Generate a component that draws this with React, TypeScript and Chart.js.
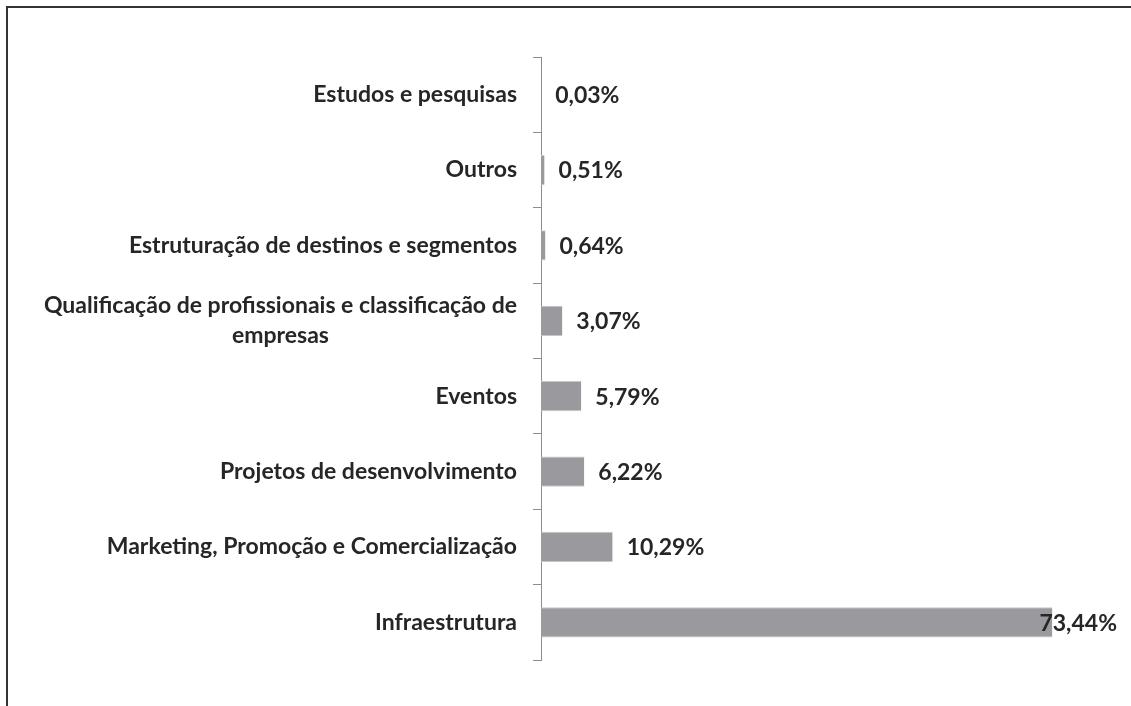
import React, { useEffect, useRef } from "react";
import { Chart, registerables } from "chart.js";

Chart.register(...registerables);

const categories: (string | string[])[] = [
  "Estudos e pesquisas",
  "Outros",
  "Estruturação de destinos e segmentos",
  ["Qualificação de profissionais e classificação de", "empresas"],
  "Eventos",
  "Projetos de desenvolvimento",
  "Marketing, Promoção e Comercialização",
  "Infraestrutura",
];
const values: number[] = [0.03, 0.51, 0.64, 3.07, 5.79, 6.22, 10.29, 73.44];
const valueLabels: string[] = ["0,03%", "0,51%", "0,64%", "3,07%", "5,79%", "6,22%", "10,29%", "73,44%"];

const FONT = "Lato, 'Open Sans', sans-serif";
const TEXT = "#262626";

const labelPlugin = {
  id: "customLabels",
  afterDraw(chart: any) {
    const ctx = chart.ctx;
    const y = chart.scales.y;
    const x = chart.scales.x;
    ctx.save();
    ctx.font = `bold 23px ${FONT}`;
    ctx.fillStyle = TEXT;
    ctx.textBaseline = "middle";
    const right = y.right - 24;
    categories.forEach((cat, i) => {
      const cy = y.getPixelForValue(i);
      const lines = Array.isArray(cat) ? cat : [cat];
      const widest = Math.max(...lines.map((l) => ctx.measureText(l).width));
      const lh = 30;
      const startY = cy - ((lines.length - 1) * lh) / 2;
      lines.forEach((l, j) => {
        ctx.textAlign = "center";
        ctx.fillText(l, right - widest / 2, startY + j * lh);
      });
    });
    ctx.textAlign = "left";
    values.forEach((v, i) => {
      const cy = y.getPixelForValue(i);
      const t = valueLabels[i];
      const w = ctx.measureText(t).width;
      let px = x.getPixelForValue(v) + 14;
      const maxRight = chart.width - 14;
      if (px + w > maxRight) px = maxRight - w;
      ctx.fillText(t, px, cy + 1);
    });
    ctx.restore();
  },
};

export default function App() {
  const ref = useRef<HTMLCanvasElement | null>(null);
  useEffect(() => {
    if (!ref.current) return;
    const chart = new Chart(ref.current, {
      type: "bar",
      data: {
        labels: categories as any,
        datasets: [
          {
            data: values,
            backgroundColor: "#9a9a9e",
            borderColor: "#c6c6c8",
            borderWidth: { top: 1, bottom: 1, left: 0, right: 0 } as any,
            borderSkipped: false,
            barPercentage: 0.4,
            categoryPercentage: 1,
          },
        ],
      },
      options: {
        indexAxis: "y",
        animation: false,
        responsive: false,
        maintainAspectRatio: false,
        layout: { padding: { top: 57, bottom: 46, left: 0, right: 33 } },
        plugins: {
          legend: { display: false },
          tooltip: { enabled: false },
        },
        scales: {
          x: {
            display: false,
            min: 0,
            max: 80,
          },
          y: {
            afterFit(scale: any) {
              scale.width = 541;
            },
            grid: {
              display: true,
              drawOnChartArea: false,
              drawTicks: true,
              tickLength: 8,
              color: "#8c8c8c",
              offset: true,
            },
            border: { display: true, color: "#8c8c8c", width: 1 },
            ticks: { color: "transparent", font: { size: 18, family: FONT, weight: "bold" } },
          },
        },
      },
      plugins: [labelPlugin],
    });
    return () => chart.destroy();
  }, []);
  return (
    <div
      style={{
        position: "fixed",
        left: 0,
        top: 0,
        width: 1131,
        height: 706,
        overflow: "hidden",
        background: "#fff",
      }}
    >
      <canvas ref={ref} width={1131} height={706} style={{ position: "absolute", left: 0, top: 0 }} />
      <div
        style={{
          position: "absolute",
          left: 6,
          top: 6,
          width: 3000,
          height: 3000,
          borderLeft: "2px solid #333",
          borderTop: "2px solid #333",
          pointerEvents: "none",
        }}
      />
    </div>
  );
}
